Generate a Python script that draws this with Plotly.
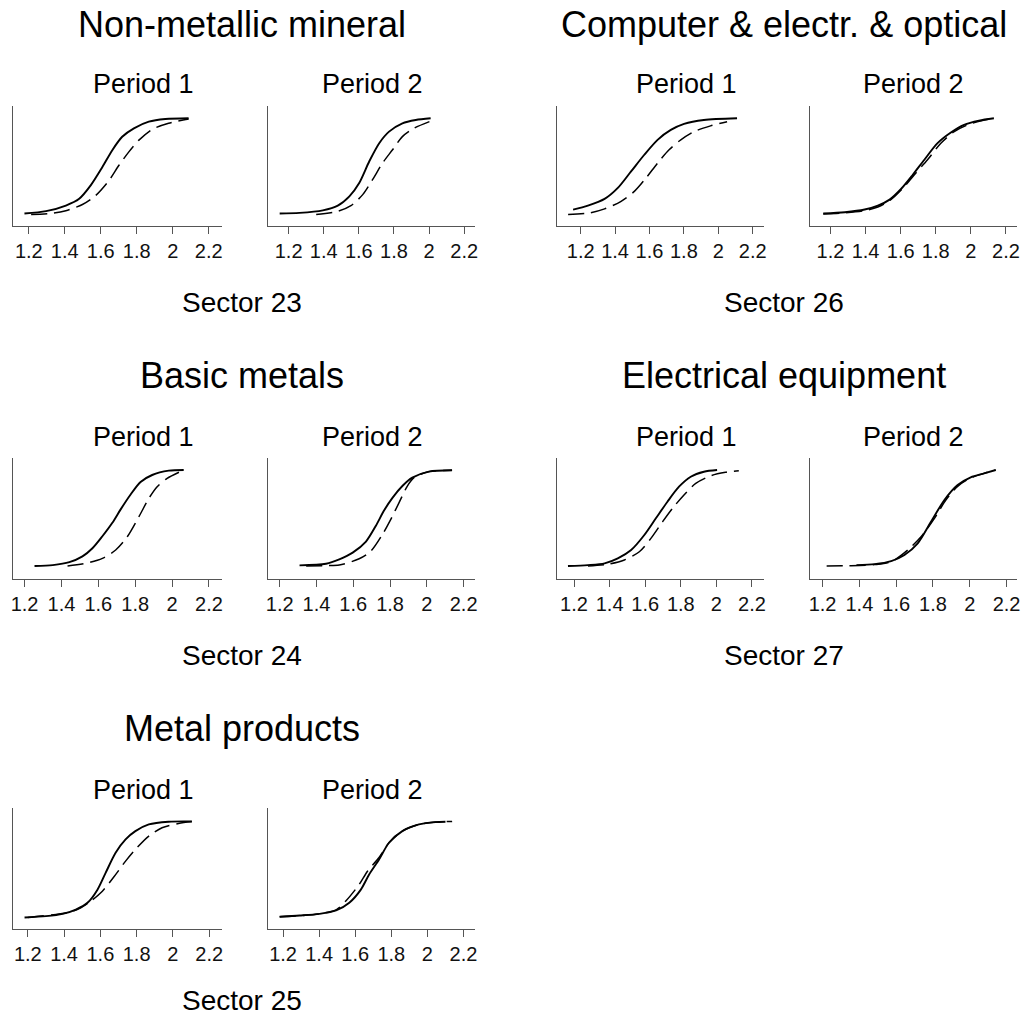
import plotly.graph_objects as go

W, H = 1030, 1019

# ---- sector headings -------------------------------------------------------
sector_names = ["Non-metallic mineral", "Computer & electr. & optical",
                "Basic metals", "Electrical equipment", "Metal products"]
sector_codes = ["Sector 23", "Sector 26", "Sector 24", "Sector 27", "Sector 25"]
period_labels = ["Period 1", "Period 2"]
tick_vals = [1.2, 1.4, 1.6, 1.8, 2.0, 2.2]
tick_text = ["1.2", "1.4", "1.6", "1.8", "2", "2.2"]

# ---- cumulative distributions (solid and dashed curve per panel) -----------
# Sector 23, period 1
s23_p1_solid_x = [1.176, 1.296, 1.406, 1.480, 1.544, 1.609, 1.664, 1.719, 1.784, 1.867, 1.959, 2.088]
s23_p1_solid_y = [0.000, 0.025, 0.084, 0.155, 0.295, 0.487, 0.663, 0.803, 0.891, 0.961, 0.989, 0.997]
s23_p1_dash_x = [1.213, 1.333, 1.406, 1.498, 1.572, 1.646, 1.701, 1.756, 1.812, 1.885, 1.977, 2.088]
s23_p1_dash_y = [-0.01, 0.003, 0.030, 0.095, 0.190, 0.347, 0.505, 0.645, 0.768, 0.880, 0.944, 0.989]
# Sector 23, period 2
s23_p2_solid_x = [1.149, 1.262, 1.395, 1.480, 1.546, 1.602, 1.659, 1.716, 1.772, 1.848, 1.924, 2.009]
s23_p2_solid_y = [0.000, 0.007, 0.034, 0.083, 0.180, 0.320, 0.545, 0.736, 0.857, 0.944, 0.979, 0.997]
s23_p2_dash_x = [1.357, 1.480, 1.555, 1.622, 1.678, 1.735, 1.792, 1.848, 1.914, 2.027]
s23_p2_dash_y = [-0.01, 0.024, 0.083, 0.198, 0.354, 0.528, 0.667, 0.805, 0.892, 0.979]
# Sector 26, period 1
s26_p1_solid_x = [1.156, 1.242, 1.339, 1.416, 1.493, 1.570, 1.647, 1.724, 1.801, 1.916, 2.109]
s26_p1_solid_y = [0.042, 0.083, 0.153, 0.268, 0.441, 0.615, 0.771, 0.875, 0.938, 0.979, 0.997]
s26_p1_dash_x = [1.127, 1.252, 1.339, 1.435, 1.512, 1.580, 1.647, 1.714, 1.782, 1.859, 1.955, 2.051]
s26_p1_dash_y = [-0.01, 0.007, 0.049, 0.128, 0.232, 0.372, 0.528, 0.667, 0.771, 0.857, 0.917, 0.961]
# Sector 26, period 2
s26_p2_solid_x = [1.159, 1.282, 1.395, 1.470, 1.537, 1.602, 1.669, 1.735, 1.810, 1.886, 1.961, 2.046, 2.131]
s26_p2_solid_y = [0.000, 0.014, 0.042, 0.083, 0.146, 0.257, 0.406, 0.563, 0.736, 0.847, 0.927, 0.972, 0.997]
s26_p2_dash_x = [1.159, 1.282, 1.395, 1.470, 1.537, 1.622, 1.678, 1.753, 1.829, 1.905, 1.980, 2.065, 2.131]
s26_p2_dash_y = [-0.005, 0.007, 0.031, 0.069, 0.135, 0.284, 0.406, 0.563, 0.736, 0.857, 0.927, 0.972, 0.997]
# Sector 24, period 1
s24_p1_solid_x = [1.254, 1.353, 1.443, 1.514, 1.568, 1.622, 1.676, 1.721, 1.775, 1.829, 1.892, 1.982, 2.063]
s24_p1_solid_y = [0.000, 0.010, 0.040, 0.100, 0.185, 0.310, 0.450, 0.590, 0.745, 0.875, 0.948, 0.993, 1.000]
s24_p1_dash_x = [1.433, 1.532, 1.622, 1.694, 1.757, 1.820, 1.874, 1.919, 1.973, 2.063]
s24_p1_dash_y = [0.000, 0.028, 0.080, 0.167, 0.305, 0.514, 0.705, 0.826, 0.913, 1.000]
# Sector 24, period 2
s24_p2_solid_x = [1.308, 1.452, 1.524, 1.597, 1.669, 1.723, 1.768, 1.813, 1.867, 1.921, 2.011, 2.137]
s24_p2_solid_y = [0.007, 0.024, 0.070, 0.140, 0.255, 0.420, 0.580, 0.710, 0.833, 0.920, 0.983, 0.997]
s24_p2_dash_x = [1.344, 1.452, 1.524, 1.632, 1.696, 1.759, 1.804, 1.849, 1.894, 1.930, 2.011, 2.137]
s24_p2_dash_y = [0.000, 0.005, 0.010, 0.076, 0.156, 0.330, 0.486, 0.660, 0.833, 0.920, 0.983, 0.997]
# Sector 27, period 1
s27_p1_solid_x = [1.166, 1.278, 1.372, 1.446, 1.521, 1.595, 1.660, 1.725, 1.790, 1.856, 1.930, 2.004]
s27_p1_solid_y = [0.000, 0.010, 0.028, 0.080, 0.167, 0.323, 0.497, 0.670, 0.826, 0.930, 0.982, 1.000]
s27_p1_dash_x = [1.278, 1.390, 1.483, 1.567, 1.632, 1.697, 1.753, 1.818, 1.884, 1.968, 2.051, 2.126]
s27_p1_dash_y = [0.000, 0.018, 0.063, 0.149, 0.288, 0.460, 0.600, 0.740, 0.861, 0.940, 0.976, 0.993]
# Sector 27, period 2
s27_p2_solid_x = [1.384, 1.483, 1.573, 1.645, 1.717, 1.789, 1.862, 1.934, 2.005, 2.078, 2.141]
s27_p2_solid_y = [0.010, 0.020, 0.052, 0.115, 0.236, 0.460, 0.688, 0.844, 0.924, 0.965, 1.000]
s27_p2_dash_x = [1.222, 1.339, 1.483, 1.573, 1.663, 1.735, 1.808, 1.870, 1.934, 2.005, 2.078, 2.141]
s27_p2_dash_y = [0.000, 0.003, 0.015, 0.045, 0.167, 0.305, 0.497, 0.688, 0.830, 0.917, 0.965, 1.000]
# Sector 25, period 1
s25_p1_solid_x = [1.182, 1.300, 1.392, 1.465, 1.529, 1.584, 1.629, 1.684, 1.739, 1.793, 1.867, 1.976, 2.104]
s25_p1_solid_y = [0.000, 0.014, 0.038, 0.083, 0.153, 0.290, 0.465, 0.674, 0.813, 0.899, 0.969, 0.997, 1.000]
s25_p1_dash_x = [1.200, 1.428, 1.492, 1.547, 1.611, 1.675, 1.739, 1.793, 1.867, 1.940, 2.031, 2.113]
s25_p1_dash_y = [0.000, 0.055, 0.101, 0.170, 0.274, 0.424, 0.587, 0.708, 0.847, 0.934, 0.979, 1.000]
# Sector 25, period 2
s25_p2_solid_x = [1.181, 1.292, 1.402, 1.494, 1.567, 1.631, 1.677, 1.732, 1.787, 1.861, 1.953, 2.045, 2.100]
s25_p2_solid_y = [0.007, 0.020, 0.038, 0.073, 0.153, 0.290, 0.448, 0.604, 0.778, 0.899, 0.969, 0.993, 0.997]
s25_p2_dash_x = [1.181, 1.402, 1.494, 1.549, 1.622, 1.668, 1.732, 1.787, 1.861, 1.953, 2.045, 2.137]
s25_p2_dash_y = [0.007, 0.038, 0.080, 0.174, 0.344, 0.482, 0.625, 0.778, 0.899, 0.969, 0.993, 1.000]

# x-axis ranges of each panel
x_ranges = {
    ("23", 1): [1.112, 2.272], ("23", 2): [1.085, 2.263],
    ("26", 1): [1.061, 2.263], ("26", 2): [1.085, 2.263],
    ("24", 1): [1.137, 2.269], ("24", 2): [1.139, 2.263],
    ("27", 1): [1.103, 2.265], ("27", 2): [1.133, 2.257],
    ("25", 1): [1.118, 2.269], ("25", 2): [1.119, 2.265],
}

curves = {
    ("23", 1): (s23_p1_solid_x, s23_p1_solid_y, s23_p1_dash_x, s23_p1_dash_y),
    ("23", 2): (s23_p2_solid_x, s23_p2_solid_y, s23_p2_dash_x, s23_p2_dash_y),
    ("26", 1): (s26_p1_solid_x, s26_p1_solid_y, s26_p1_dash_x, s26_p1_dash_y),
    ("26", 2): (s26_p2_solid_x, s26_p2_solid_y, s26_p2_dash_x, s26_p2_dash_y),
    ("24", 1): (s24_p1_solid_x, s24_p1_solid_y, s24_p1_dash_x, s24_p1_dash_y),
    ("24", 2): (s24_p2_solid_x, s24_p2_solid_y, s24_p2_dash_x, s24_p2_dash_y),
    ("27", 1): (s27_p1_solid_x, s27_p1_solid_y, s27_p1_dash_x, s27_p1_dash_y),
    ("27", 2): (s27_p2_solid_x, s27_p2_solid_y, s27_p2_dash_x, s27_p2_dash_y),
    ("25", 1): (s25_p1_solid_x, s25_p1_solid_y, s25_p1_dash_x, s25_p1_dash_y),
    ("25", 2): (s25_p2_solid_x, s25_p2_solid_y, s25_p2_dash_x, s25_p2_dash_y),
}

# ---- layout geometry (pixels) ----------------------------------------------
col_px = [(10, 220), (267, 475), (557, 765), (812, 1020)]
row_px = [(106, 226), (458, 579), (808, 929)]
row_yrange = [[-0.13, 1.125], [-0.135, 1.125], [-0.12, 1.14]]
heading_y = [25, 376, 728]
period_y = [84, 437, 790]
code_y = [302, 655, 1000]
period_x = {1: [141, 688], 2: [372, 916]}
group_center_x = [240, 786]

# sector code -> (row, group)
placement = {"23": (0, 0), "26": (0, 1), "24": (1, 0), "27": (1, 1), "25": (2, 0)}
order = ["23", "26", "24", "27", "25"]

FONT = "Liberation Sans, Arial, sans-serif"
AXIS_COLOR = "#555555"


def px_x(v):
    return v / W


def px_y(v):
    return 1 - v / H


fig = go.Figure()
layout_axes = {}
annotations = []
ax_idx = 0

for k, code in enumerate(order):
    row, grp = placement[code]
    for period in (1, 2):
        ax_idx += 1
        col = grp * 2 + (period - 1)
        xname = "xaxis" if ax_idx == 1 else f"xaxis{ax_idx}"
        yname = "yaxis" if ax_idx == 1 else f"yaxis{ax_idx}"
        xref = "x" if ax_idx == 1 else f"x{ax_idx}"
        yref = "y" if ax_idx == 1 else f"y{ax_idx}"

        x0, x1 = col_px[col]
        t0, t1 = row_px[row]
        layout_axes[xname] = dict(
            domain=[px_x(x0), px_x(x1)], range=x_ranges[(code, period)],
            anchor=yref, showgrid=False, zeroline=False,
            showline=True, linecolor=AXIS_COLOR, linewidth=1,
            ticks="outside", ticklen=7, tickcolor=AXIS_COLOR, tickwidth=1,
            tickvals=tick_vals, ticktext=tick_text,
            tickfont=dict(family=FONT, size=20, color="#111111"),
        )
        layout_axes[yname] = dict(
            domain=[px_y(t1), px_y(t0)], range=row_yrange[row],
            anchor=xref, showgrid=False, zeroline=False,
            showline=True, linecolor=AXIS_COLOR, linewidth=1,
            showticklabels=False, ticks="",
        )

        sx, sy, dx, dy = curves[(code, period)]
        fig.add_trace(go.Scatter(
            x=sx, y=sy, mode="lines", xaxis=xref, yaxis=yref,
            line=dict(color="black", width=1.9, shape="spline", smoothing=0.8),
            showlegend=False, hoverinfo="skip"))
        fig.add_trace(go.Scatter(
            x=dx, y=dy, mode="lines", xaxis=xref, yaxis=yref,
            line=dict(color="black", width=1.5, dash="16px,7px",
                      shape="spline", smoothing=0.8),
            showlegend=False, hoverinfo="skip"))

        annotations.append(dict(
            text=period_labels[period - 1], x=px_x(period_x[period][grp]),
            y=px_y(period_y[row]), xref="paper", yref="paper",
            xanchor="center", yanchor="middle", showarrow=False,
            font=dict(family=FONT, size=27, color="black")))

    annotations.append(dict(
        text=sector_names[k], x=px_x(group_center_x[grp]), y=px_y(heading_y[row]),
        xref="paper", yref="paper", xanchor="center", yanchor="middle",
        showarrow=False, font=dict(family=FONT, size=36, color="black")))
    annotations.append(dict(
        text=sector_codes[k], x=px_x(group_center_x[grp]), y=px_y(code_y[row]),
        xref="paper", yref="paper", xanchor="center", yanchor="middle",
        showarrow=False, font=dict(family=FONT, size=28, color="black")))

fig.update_layout(
    width=W, height=H, margin=dict(l=0, r=0, t=0, b=0),
    paper_bgcolor="white", plot_bgcolor="white",
    annotations=annotations, **layout_axes)

fig.write_html("out.html")
